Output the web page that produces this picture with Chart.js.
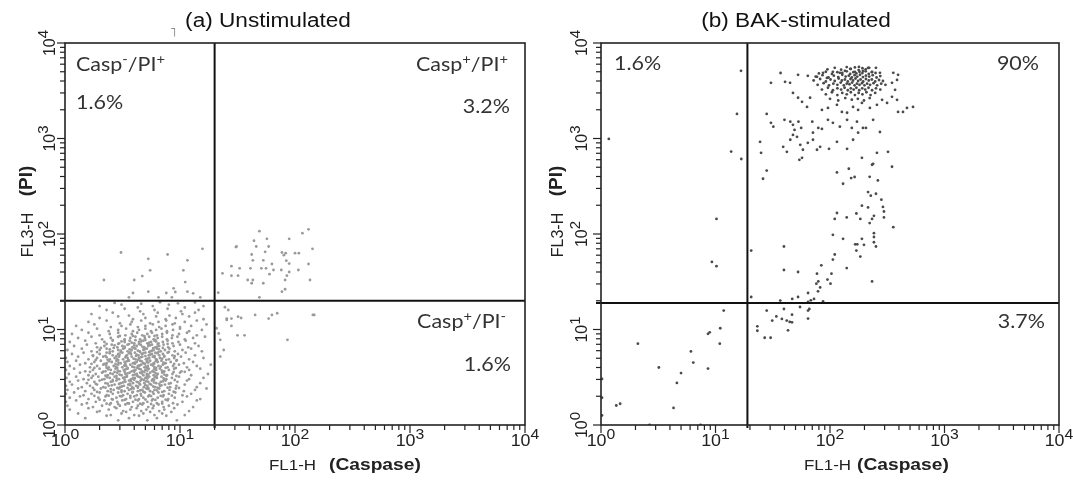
<!DOCTYPE html>
<html>
<head>
<meta charset="utf-8">
<script src="https://cdn.jsdelivr.net/npm/chart.js@4"></script>
<style>
  html, body { margin: 0; padding: 0; background: #fff; }
  #wrap { position: relative; width: 1073px; height: 480px; overflow: hidden; }
  .panel { position: absolute; top: 0; height: 480px; }
</style>
</head>
<body>
<div id="wrap">
  <div class="panel" style="left:0;width:545px"><canvas id="chartA" width="545" height="480"></canvas></div>
  <div class="panel" style="left:536px;width:537px"><canvas id="chartB" width="537" height="480"></canvas></div>
</div>
<script>
// axis decades and their exponent labels
const decades = [1, 10, 100, 1000, 10000];
const exponents = ["0", "1", "2", "3", "4"];
const minorSteps = [1, 2, 3, 4, 5, 6, 7, 8, 9];

// quadrant gates (FL1-H, FL3-H)
const gateA = [20, 20];
const gateB = [19, 19];

// (a) unstimulated: main Casp-/PI- population
const unstimCluster = [
  [1.5,1.18],[2.3,1.25],[2.9,1.12],[3.6,1.18],[4.4,1.25],[5.2,1.12],[6.3,1.18],[7.6,1.25],[9.4,1.12],
  [1.3,1.32],[1.9,1.37],[2.5,1.27],[3.1,1.32],[3.4,1.37],[4.0,1.27],[4.8,1.32],[5.5,1.37],[6.0,1.27],[7.0,1.32],[8.4,1.37],[11,1.27],
  [1.1,1.45],[1.6,1.5],[2.0,1.4],[2.4,1.45],[2.8,1.5],[3.2,1.4],[3.7,1.45],[4.2,1.5],[4.6,1.4],[5.1,1.45],[5.8,1.5],[6.6,1.4],[7.3,1.45],[8.9,1.5],[12,1.4],
  [1.05,1.59],[1.4,1.64],[1.75,1.54],[2.1,1.59],[2.45,1.64],[2.7,1.54],[3.0,1.59],[3.35,1.64],[3.8,1.54],[4.3,1.59],[4.7,1.64],[5.3,1.54],[5.9,1.59],[6.5,1.64],[7.2,1.54],[8.0,1.59],[9.5,1.64],[13,1.54],
  [1.02,1.75],[1.25,1.81],[1.55,1.69],[1.85,1.75],[2.2,1.81],[2.5,1.69],[2.85,1.75],[3.15,1.81],[3.5,1.69],[3.9,1.75],[4.3,1.81],[4.8,1.69],[5.2,1.75],[5.7,1.81],[6.3,1.69],[7.0,1.75],[7.8,1.81],[8.7,1.69],[10.5,1.75],[14,1.81],
  [1.1,1.93],[1.35,1.99],[1.6,1.87],[1.95,1.93],[2.25,1.99],[2.55,1.87],[2.8,1.93],[3.1,1.99],[3.4,1.87],[3.7,1.93],[4.0,1.99],[4.4,1.87],[4.8,1.93],[5.3,1.99],[5.8,1.87],[6.4,1.93],[7.1,1.99],[7.9,1.87],[9.0,1.93],[11.5,1.99],[15,1.87],
  [1.02,2.12],[1.2,2.19],[1.45,2.05],[1.7,2.12],[2.0,2.19],[2.3,2.05],[2.6,2.12],[2.9,2.19],[3.2,2.05],[3.5,2.12],[3.85,2.19],[4.2,2.05],[4.55,2.12],[4.95,2.19],[5.4,2.05],[5.9,2.12],[6.5,2.19],[7.2,2.05],[8.0,2.12],[9.1,2.19],[10.5,2.05],[12.5,2.12],
  [1.05,2.33],[1.3,2.41],[1.5,2.26],[1.8,2.33],[2.05,2.41],[2.35,2.26],[2.65,2.33],[2.95,2.41],[3.3,2.26],[3.6,2.33],[3.95,2.41],[4.3,2.26],[4.7,2.33],[5.1,2.41],[5.5,2.26],[6.0,2.33],[6.6,2.41],[7.3,2.26],[8.1,2.33],[9.2,2.41],[10.8,2.26],[13.5,2.33],[17,2.41],
  [1.02,2.57],[1.15,2.65],[1.4,2.49],[1.65,2.57],[1.9,2.65],[2.15,2.49],[2.4,2.57],[2.7,2.65],[3.0,2.49],[3.25,2.57],[3.55,2.65],[3.85,2.49],[4.15,2.57],[4.5,2.65],[4.85,2.49],[5.2,2.57],[5.6,2.65],[6.1,2.49],[6.7,2.57],[7.4,2.65],[8.2,2.49],[9.3,2.57],[11,2.65],[14,2.49],
  [1.1,2.83],[1.3,2.92],[1.55,2.74],[1.8,2.83],[2.0,2.92],[2.25,2.74],[2.5,2.83],[2.8,2.92],[3.05,2.74],[3.35,2.83],[3.6,2.92],[3.9,2.74],[4.2,2.83],[4.55,2.92],[4.9,2.74],[5.3,2.83],[5.7,2.92],[6.2,2.74],[6.8,2.83],[7.5,2.92],[8.3,2.74],[9.5,2.83],[11.5,2.92],[15,2.74],
  [1.03,3.11],[1.25,3.21],[1.45,3.02],[1.7,3.11],[1.95,3.21],[2.2,3.02],[2.45,3.11],[2.7,3.21],[2.95,3.02],[3.2,3.11],[3.45,3.21],[3.75,3.02],[4.05,3.11],[4.35,3.21],[4.65,3.02],[5.0,3.11],[5.4,3.21],[5.8,3.02],[6.3,3.11],[6.9,3.21],[7.6,3.02],[8.5,3.11],[9.8,3.21],[12,3.02],[16,3.11],
  [1.08,3.42],[1.35,3.53],[1.6,3.32],[1.85,3.42],[2.1,3.53],[2.35,3.32],[2.6,3.42],[2.85,3.53],[3.1,3.32],[3.35,3.42],[3.65,3.53],[3.9,3.32],[4.2,3.42],[4.5,3.53],[4.8,3.32],[5.15,3.42],[5.5,3.53],[5.9,3.32],[6.4,3.42],[7.0,3.53],[7.7,3.32],[8.6,3.42],[10,3.53],[12.5,3.32],[17.5,3.42],
  [1.02,3.77],[1.2,3.89],[1.5,3.65],[1.75,3.77],[2.0,3.89],[2.25,3.65],[2.5,3.77],[2.75,3.89],[3.0,3.65],[3.25,3.77],[3.5,3.89],[3.8,3.65],[4.1,3.77],[4.4,3.89],[4.7,3.65],[5.0,3.77],[5.35,3.89],[5.75,3.65],[6.2,3.77],[6.7,3.89],[7.3,3.65],[8.0,3.77],[8.9,3.89],[10.3,3.65],[12,3.77],[15,3.89],
  [1.1,4.15],[1.35,4.28],[1.65,4.02],[1.9,4.15],[2.15,4.28],[2.4,4.02],[2.65,4.15],[2.9,4.28],[3.15,4.02],[3.4,4.15],[3.7,4.28],[4.0,4.02],[4.3,4.15],[4.6,4.28],[4.9,4.02],[5.25,4.15],[5.6,4.28],[6.0,4.02],[6.5,4.15],[7.1,4.28],[7.8,4.02],[8.7,4.15],[9.8,4.28],[11.5,4.02],[14,4.15],[18.5,4.28],
  [1.05,4.57],[1.25,4.71],[1.5,4.43],[1.8,4.57],[2.05,4.71],[2.3,4.43],[2.55,4.57],[2.8,4.71],[3.05,4.43],[3.3,4.57],[3.6,4.71],[3.9,4.43],[4.2,4.57],[4.5,4.71],[4.8,4.43],[5.15,4.57],[5.5,4.71],[5.9,4.43],[6.4,4.57],[6.9,4.71],[7.5,4.43],[8.3,4.57],[9.3,4.71],[10.8,4.43],[13,4.57],
  [1.02,5.03],[1.3,5.19],[1.6,4.87],[1.9,5.03],[2.15,5.19],[2.45,4.87],[2.7,5.03],[2.95,5.19],[3.2,4.87],[3.5,5.03],[3.8,5.19],[4.1,4.87],[4.4,5.03],[4.7,5.19],[5.05,4.87],[5.4,5.03],[5.8,5.19],[6.2,4.87],[6.7,5.03],[7.3,5.19],[8.0,4.87],[8.9,5.03],[10.2,5.19],[12,4.87],[16,5.03],
  [1.15,5.54],[1.45,5.72],[1.75,5.37],[2.0,5.54],[2.3,5.72],[2.6,5.37],[2.9,5.54],[3.15,5.72],[3.45,5.37],[3.75,5.54],[4.05,5.72],[4.35,5.37],[4.65,5.54],[5.0,5.72],[5.35,5.37],[5.7,5.54],[6.1,5.72],[6.6,5.37],[7.1,5.54],[7.8,5.72],[8.6,5.37],[9.6,5.54],[11.2,5.72],[13.5,5.37],
  [1.05,6.1],[1.4,6.3],[1.7,5.91],[2.0,6.1],[2.3,6.3],[2.6,5.91],[2.9,6.1],[3.2,6.3],[3.5,5.91],[3.8,6.1],[4.1,6.3],[4.45,5.91],[4.8,6.1],[5.15,6.3],[5.5,5.91],[5.9,6.1],[6.3,6.3],[6.8,5.91],[7.4,6.1],[8.1,6.3],[9.0,5.91],[10.5,6.1],[12.5,6.3],[15.5,5.91],
  [1.2,6.72],[1.55,6.93],[1.9,6.51],[2.2,6.72],[2.55,6.93],[2.85,6.51],[3.15,6.72],[3.5,6.93],[3.85,6.51],[4.2,6.72],[4.55,6.93],[4.9,6.51],[5.3,6.72],[5.7,6.93],[6.1,6.51],[6.6,6.72],[7.2,6.93],[7.9,6.51],[8.8,6.72],[10,6.93],[11.8,6.51],[14.5,6.72],
  [1.1,7.4],[1.5,7.63],[1.85,7.17],[2.2,7.4],[2.6,7.63],[2.95,7.17],[3.3,7.4],[3.65,7.63],[4.0,7.17],[4.4,7.4],[4.8,7.63],[5.2,7.17],[5.6,7.4],[6.0,7.63],[6.5,7.17],[7.1,7.4],[7.8,7.63],[8.6,7.17],[9.7,7.4],[11.2,7.63],[13.5,7.17],
  [1.3,8.15],[1.7,8.4],[2.1,7.9],[2.5,8.15],[2.9,8.4],[3.3,7.9],[3.7,8.15],[4.1,8.4],[4.5,7.9],[4.95,8.15],[5.4,8.4],[5.9,7.9],[6.4,8.15],[7.0,8.4],[7.7,7.9],[8.5,8.15],[9.5,8.4],[11,7.9],[13,8.15],[16.5,8.4],
  [1.15,8.97],[1.6,9.25],[2.0,8.7],[2.45,8.97],[2.9,9.25],[3.35,8.7],[3.8,8.97],[4.25,9.25],[4.7,8.7],[5.2,8.97],[5.7,9.25],[6.3,8.7],[7.0,8.97],[7.7,9.25],[8.6,8.7],[9.8,8.97],[11.5,9.25],[14,8.7],
  [1.4,9.9],[1.9,10.2],[2.4,9.6],[2.9,9.9],[3.4,10.2],[3.9,9.6],[4.4,9.9],[5.0,10.2],[5.6,9.6],[6.2,9.9],[6.9,10.2],[7.7,9.6],[8.7,9.9],[10,10.2],[12,9.6],[15.5,9.9],
  [1.25,10.9],[1.8,11.3],[2.5,10.6],[3.1,10.9],[3.7,11.3],[4.3,10.6],[5.0,10.9],[5.8,11.3],[6.6,10.6],[7.5,10.9],[8.6,11.3],[10,10.6],[12.5,10.9],[17,11.3],
  [1.6,12],[2.3,12.4],[3.0,11.6],[3.8,12],[4.6,12.4],[5.5,11.6],[6.5,12],[7.6,12.4],[9.0,11.6],[11,12],[14,12.4],
  [2.0,13.2],[2.9,13.7],[3.9,12.8],[5.0,13.2],[6.2,13.7],[7.5,12.8],[9.2,13.2],[12,13.7],[16,12.8],
  [1.7,14.5],[2.6,15],[3.6,14],[4.8,14.5],[6.4,15],[8.1,14],[10.5,14.5],[13.5,15],
  [2.3,16],[3.3,16.5],[4.5,15.5],[6.0,16],[7.8,16.5],[10.2,15.5],[14.5,16],
  [2.0,17.6],[3.1,18.2],[4.3,17],[5.8,17.6],[8.0,18.2],[11,17],[16,17.6],
  [2.7,19],[4.6,18.6],[6.7,19.3],[9.6,18.8],[13.5,19.2]
];

// (a) denser centre of the main population
const unstimCore = [
  [2.5,2.38],[3.1,2.3],[3.75,2.37],[4.5,2.3],[5.3,2.37],[6.3,2.3],
  [2.55,2.6],[3.12,2.53],[3.7,2.61],[4.3,2.53],[5.0,2.61],[5.85,2.53],[6.9,2.6],
  [2.6,2.87],[3.2,2.79],[3.75,2.88],[4.35,2.79],[5.1,2.87],[5.95,2.79],[7.1,2.86],
  [2.33,3.16],[2.82,3.07],[3.32,3.16],[3.9,3.07],[4.5,3.16],[5.2,3.07],[6.05,3.16],[7.2,3.07],
  [2.48,3.47],[2.98,3.37],[3.5,3.47],[4.05,3.37],[4.65,3.47],[5.3,3.37],[6.15,3.47],[7.3,3.37],
  [2.38,3.83],[2.88,3.71],[3.38,3.83],[3.95,3.71],[4.55,3.83],[5.2,3.71],[5.95,3.83],[6.95,3.71],
  [2.28,4.2],[2.78,4.08],[3.28,4.2],[3.85,4.08],[4.45,4.2],[5.05,4.08],[5.8,4.2],[6.8,4.08],
  [2.42,4.64],[2.92,4.5],[3.45,4.64],[4.05,4.5],[4.65,4.64],[5.3,4.5],[6.15,4.64],[7.2,4.5],
  [2.3,5.11],[2.82,4.95],[3.35,5.11],[3.95,4.95],[4.55,5.11],[5.2,4.95],[6.0,5.11],[7.0,4.95],
  [2.45,5.63],[2.98,5.45],[3.6,5.63],[4.2,5.45],[4.8,5.63],[5.5,5.45],[6.35,5.63],
  [2.45,6.2],[3.05,6.0],[3.65,6.2],[4.3,6.0],[4.95,6.2],[5.7,6.0],[6.55,6.2],
  [2.7,6.82],[3.3,6.62],[4.0,6.82],[4.7,6.62],[5.5,6.82],[6.35,6.62],
  [3.1,7.5],[3.8,7.28],[4.6,7.5],[5.4,7.28],[6.2,7.5]
];

// (a) more events filling the body of the population
const unstimFill = [
  [2.3,1.67],[2.9,1.66],[3.6,1.68],[4.5,1.67],[5.6,1.66],[7.0,1.68],
  [2.0,1.84],[2.6,1.85],[3.3,1.83],[4.1,1.84],[5.0,1.85],[6.1,1.83],[7.5,1.84],
  [1.8,2.02],[2.4,2.03],[3.0,2.01],[3.7,2.02],[4.6,2.03],[5.6,2.01],[6.8,2.02],[8.5,2.03],
  [1.9,2.22],[2.5,2.23],[3.1,2.21],[3.9,2.22],[4.8,2.23],[5.8,2.21],[7.0,2.22],[8.8,2.23],
  [1.75,2.45],[2.25,2.46],[2.85,2.44],[3.5,2.45],[4.3,2.46],[5.3,2.44],[6.4,2.45],[7.8,2.46],[9.8,2.44],
  [1.85,2.7],[2.35,2.71],[2.95,2.69],[3.65,2.7],[4.45,2.71],[5.45,2.69],[6.6,2.7],[8.0,2.71],
  [1.6,2.97],[2.1,2.98],[2.6,2.96],[3.3,2.97],[4.0,2.98],[4.85,2.96],[5.95,2.97],[7.3,2.98],[9.0,2.96],
  [1.75,3.27],[2.25,3.28],[2.8,3.26],[3.45,3.27],[4.25,3.28],[5.15,3.26],[6.25,3.27],[7.6,3.28],[9.3,3.26],
  [1.65,3.6],[2.15,3.61],[2.7,3.59],[3.3,3.6],[4.0,3.61],[4.9,3.59],[5.95,3.6],[7.2,3.61],[8.8,3.59],[11,3.6],
  [1.8,3.96],[2.3,3.97],[2.85,3.95],[3.5,3.96],[4.25,3.97],[5.15,3.95],[6.2,3.96],[7.5,3.97],[9.2,3.95],
  [1.7,4.36],[2.2,4.37],[2.75,4.35],[3.35,4.36],[4.05,4.37],[4.95,4.35],[5.95,4.36],[7.2,4.37],[8.9,4.35],
  [1.85,4.8],[2.35,4.81],[2.9,4.79],[3.55,4.8],[4.3,4.81],[5.2,4.79],[6.3,4.8],[7.6,4.81],[9.4,4.79],
  [1.75,5.28],[2.25,5.29],[2.8,5.27],[3.4,5.28],[4.15,5.29],[5.0,5.27],[6.0,5.28],[7.3,5.29],[9.0,5.27],
  [1.9,5.8],[2.45,5.81],[3.05,5.79],[3.7,5.8],[4.5,5.81],[5.4,5.79],[6.5,5.8],[8.0,5.81],
  [2.05,6.4],[2.65,6.41],[3.3,6.39],[4.0,6.4],[4.85,6.41],[5.85,6.39],[7.1,6.4],
  [2.3,7.05],[2.9,7.06],[3.6,7.04],[4.4,7.05],[5.3,7.06],[6.4,7.04],[7.8,7.05],
  [2.6,7.75],[3.3,7.76],[4.1,7.74],[5.0,7.75],[6.1,7.76],
  [3.0,8.55],[3.9,8.56],[4.9,8.54],[6.0,8.55]
];

// (a) Casp-/PI+
const unstimUpperLeft = [
  [3.07,64],[7.8,61],[15.7,70],[5.3,55],[5.5,41.7],[4.7,36.3],[10.7,41.7],[11.6,53],[2.18,33],[4.0,33],
  [11.1,31.4],[3.9,24.1],[5.3,24.9],[7.6,24.1],[8.8,27],[9.1,24.7],[11.6,24.9],[13,23.9],[15,21.7],[3.6,21.7],
  [6.5,21.7],[8.5,21.7]
];

// (a) Casp+/PI+
const unstimUpperRight = [
  [49,107],[131,112],[116,102],[44,85],[57,89],[89,89],[31,74],[46,74],[59,74],[42,61],
  [55,65],[77,64],[80,60],[83,63],[100,63],[108,63],[142,70],[43,53],[53,53],[63,48.5],
  [84,52.5],[89,49],[131,48.5],[28,46],[33,43.7],[41,43.7],[51,43.7],[56,43.7],[65,42],[76,42],
  [89,40],[23.4,38.7],[28,36.6],[32,36.6],[60,38],[85,36.6],[38.8,33],[43,33],[42,30.5],[53,30.5],
  [82,33],[135,33],[77,24.9],[82,26.4],[49,21.7],[21.5,24.3],[107,42],[30.6,73]
];

// (a) Casp+/PI-
const unstimLowerRight = [
  [24.6,17.1],[26.3,16],[32,13.6],[25.5,13],[28,13],[45,14.2],[59,13],[63,14.2],[70,14.8],[147,14.2],
  [28,10.9],[25.5,12.6],[34,13.2],[86,7.8],[143,14.2],[21.7,9.1],[22.4,7.8],[22.4,5.2],[24,6.1],[31.6,8.7],
  [36.4,8.7],[20.8,10.3]
];

// (b) BAK-stimulated: dense Casp+/PI+ core
const stimCore = [
  [95,5300],[110,5500],[125,5250],[140,5600],[152,5350],[165,5550],[178,5200],[192,5450],[205,5300],[220,5500],
  [80,4800],[92,5000],[104,4750],[116,4950],[128,4850],[140,5050],[150,4750],[160,4950],[170,4800],[181,5000],
  [192,4850],[205,5050],[218,4750],[232,4950],[250,4850],
  [75,4450],[86,4600],[97,4350],[108,4550],[118,4400],[128,4650],[137,4450],[146,4550],[155,4350],[164,4600],
  [173,4450],[183,4650],[194,4400],[206,4550],[220,4450],[236,4600],[255,4350],[275,4500],
  [72,4050],[82,4200],[92,3950],[101,4150],[110,4000],[119,4250],[127,4050],[135,4150],[143,3950],[151,4200],
  [159,4050],[167,4250],[176,4000],[185,4150],[195,3950],[206,4200],[218,4050],[232,4150],[248,3950],[268,4100],[290,4000],
  [78,3650],[88,3800],[98,3600],[107,3750],[116,3650],[124,3850],[132,3600],[140,3750],[148,3700],[156,3850],
  [164,3600],[172,3750],[181,3650],[190,3800],[200,3600],[211,3750],[224,3650],[240,3800],[258,3600],[280,3750],[305,3650],
  [85,3250],[96,3400],[106,3200],[116,3350],[125,3250],[134,3400],[143,3200],[152,3350],[161,3250],[170,3400],
  [180,3200],[191,3350],[203,3250],[217,3400],[233,3200],[252,3350],[275,3250],
  [92,2900],[104,3050],[116,2850],[128,3000],[140,2900],[152,3050],[165,2850],[178,3000],[192,2900],[208,3050],[226,2850],[248,3000],
  [100,2600],[118,2500],[136,2650],[155,2550],[175,2600],[198,2500],[222,2650]
];

// (b) remaining Casp+/PI+ events
const stimUpperRight = [
  [37,4850],[52.6,4640],[64,4530],[77,4420],[87,4870],[94,4310],[106,4990],[122,4870],[135,5110],[150,5360],
  [165,4990],[179,5620],[194,5110],[215,5500],[233,4990],[252,5500],[273,4870],[357,4870],[393,4640],
  [30.5,3830],[40.5,3920],[44.8,3830],[47.5,3000],[52.6,2670],[57,2420],[63,2140],[67,2670],[85,1990],[96,2090],
  [115,2250],[127,1900],[141,1860],[159,2140],[176,1990],[190,2360],[223,2090],[257,2250],[285,2540],[315,2360],
  [348,2730],[370,3230],[385,2540],[393,1900],[434,1900],[470,2090],[531,2140],[348,3830],[385,4110],
  [28,1810],[30.5,1460],[32,1330],[40,1570],[45,1500],[47.5,1390],[53,1500],[56,1290],[49,1230],[47.5,1090],
  [51.5,1040],[45,970],[70,1500],[71,1150],[79,1290],[85,1260],[96,1570],[106,1460],[122,1330],[141,1570],
  [155,1290],[172,1500],[194,1290],[206,1290],[238,1570],[273,1170],[176,1150],[159,970],[115,923],[98,780],
  [82,818],[71,970],[64,901],[39,818],[42,726],[55,859],[58,762],[77,762],[57,628],[54,598],
  [24.5,923],[25,708],[141,780],[190,628],[238,543],[257,708],[321,726],[348,506],
  [28,462],[26,379],[233,531],[146,482],[115,441],[153,385],[164,395],[130,336],[222,397],[262,364],
  [215,275],[227,252],[252,264],[281,229],[190,198],[215,190],[290,192],[296,172],[115,166],[110,144],
  [140,149],[170,164],[184,144],[233,144],[242,155],[222,130],[296,149],[357,118],[106,98],[130,89],
  [190,89],[166,78],[173,78],[198,77],[170,67],[184,58],[242,102],[242,93],[242,82],[252,74],
  [110,61],[106,54],[140,44],[84,47],[77,38.4],[103,38.4],[79,31.9],[76,30.2],[95,33.3],[101,30.2],
  [82,27.6],[52.6,40],[39.6,42],[39.6,74],[233,31.9],[20.5,67],
  [20.5,21.9],[36.8,20.1],[46.8,20.9],[52.6,21.9],[64.3,24.1],[78.6,25.1],[64.3,19.4],[68,20.2],[72.5,20.9],[87,19.7]
];

// (b) Casp+/PI-
const stimLowerRight = [
  [28,15.8],[39.6,16.4],[54.7,17.2],[66,16.4],[64.3,15.8],[46.6,14.3],[34,13.7],[31.3,12.4],[38,12.9],[41.9,12.4],
  [44.5,12],[46.6,11.9],[64.3,13],[23.2,10.8],[23.2,9.7],[43,9.8],[26.9,8.2],[30.3,8.2]
];

// (b) Casp- events (left of the gate)
const stimLeft = [
  [1.17,990],[13.7,730],[16.8,610],[15.4,1810],[16.7,5110],[10.2,144],[9.3,51],[10.2,46],
  [11.8,15.8],[8.9,9.35],[8.6,9.0],[11,10.3],[10.9,7.1],[2.1,7.1],[6.1,5.9],[6.4,4.5],[8.6,3.9],[3.2,4.0],
  [5.0,3.5],[4.6,2.76],[4.3,1.51],[1.36,1.6],[1.47,1.67],[2.66,1.0],[7.4,1.0],[1.02,3.04],[1.02,1.93],[1.02,1.26]
];

const ARIAL = '"Liberation Sans", Arial, sans-serif';
const CALI = 'Lato, "Open Sans", sans-serif';
const S = 1.13; // the source lettering is a little wide

function runs(ctx, parts, x, y, align, rotated, stretch) {
  ctx.save();
  ctx.translate(x, y);
  if (rotated) ctx.rotate(-Math.PI / 2);
  ctx.scale(stretch, 1);
  ctx.textAlign = "left";
  ctx.textBaseline = "alphabetic";
  const widths = parts.map(p => { ctx.font = p[1]; return ctx.measureText(p[0]).width; });
  const total = widths.reduce((s, w) => s + w, 0);
  let cx = align === "center" ? -total / 2 : align === "right" ? -total : 0;
  parts.forEach((p, i) => {
    ctx.font = p[1];
    ctx.fillText(p[0], cx, -(p[2] || 0));
    cx += widths[i];
  });
  ctx.restore();
}

function q(main, sup1, rest, sup2) {
  const f = "19px " + CALI, fs = "13px " + CALI;
  return [[main, f], [sup1, fs, 7], [rest, f], [sup2, fs, 7]];
}

const panels = {
  chartA: {
    gate: gateA, yLabelGap: 10,
    title: ["(a) Unstimulated", 268],
    yTitleX: 33,
    xTitle: [269, 329],
    texts: [
      [q("Casp", "-", "/PI", "+"), 76, 71, "left"],
      [[["1.6%", "19px " + CALI]], 76, 109, "left"],
      [q("Casp", "+", "/PI", "+"), 508, 71, "right"],
      [[["3.2%", "19px " + CALI]], 510, 113, "right"],
      [q("Casp", "+", "/PI", "-"), 506, 328, "right"],
      [[["1.6%", "19px " + CALI]], 511, 371, "right"]
    ],
    mark: true
  },
  chartB: {
    gate: gateB, yLabelGap: 14,
    title: ["(b) BAK-stimulated", 260],
    yTitleX: 27,
    xTitle: [268, 321],
    texts: [
      [[["1.6%", "19px " + CALI]], 78, 70, "left"],
      [[["90%", "19px " + CALI]], 503, 70, "right"],
      [[["3.7%", "19px " + CALI]], 509, 328, "right"]
    ],
    mark: false
  }
};

const flowPlugin = {
  id: "flowFrame",
  afterDatasetsDraw(chart) {
    const p = panels[chart.canvas.id];
    const { ctx, chartArea: a, scales: { x, y } } = chart;
    const line = (x1, y1, x2, y2) => { ctx.beginPath(); ctx.moveTo(x1, y1); ctx.lineTo(x2, y2); ctx.stroke(); };
    ctx.save();

    // quadrant gates
    ctx.strokeStyle = "#111";
    ctx.lineWidth = 2;
    const gx = x.getPixelForValue(p.gate[0]);
    const gy = y.getPixelForValue(p.gate[1]);
    line(gx, a.top, gx, a.bottom + 3);
    line(a.left - 5, gy, a.right, gy);

    // frame
    ctx.strokeStyle = "#222";
    ctx.lineWidth = 1.6;
    ctx.strokeRect(a.left, a.top, a.right - a.left, a.bottom - a.top);

    // log ticks
    ctx.lineWidth = 1.2;
    decades.forEach(d => {
      minorSteps.forEach(m => {
        const v = d * m;
        if (v > 10000) return;
        const len = m === 1 ? 8 : 5;
        const px = x.getPixelForValue(v);
        line(px, a.bottom, px, a.bottom + len);
        const py = y.getPixelForValue(v);
        line(a.left - len, py, a.left, py);
      });
    });

    // tick labels
    ctx.fillStyle = "#222";
    decades.forEach((d, i) => {
      const px = x.getPixelForValue(d);
      runs(ctx, [["10", "17px " + ARIAL], [exponents[i], "15px " + ARIAL, 7]], px, a.bottom + 21, "center", false, 1.05);
      const py = y.getPixelForValue(d);
      runs(ctx, [["10", "16px " + ARIAL], [exponents[i], "15px " + ARIAL, 7]], a.left - p.yLabelGap, py, "center", true, 1);
    });

    // axis titles
    runs(ctx, [["FL1-H", "15px " + ARIAL]], p.xTitle[0], 470, "left", false, S);
    runs(ctx, [["(Caspase)", "bold 17px " + ARIAL]], p.xTitle[1], 470, "left", false, S);
    runs(ctx, [["FL3-H", "16px " + ARIAL]], p.yTitleX, 235, "center", true, 1);
    runs(ctx, [["(PI)", "bold 19px " + ARIAL]], p.yTitleX - 1, 181, "center", true, 1);

    // panel title
    ctx.fillStyle = "#111";
    runs(ctx, [[p.title[0], "20px " + ARIAL]], p.title[1], 27, "center", false, S);

    // quadrant percentages
    ctx.fillStyle = "#333";
    p.texts.forEach(t => runs(ctx, t[0], t[1], t[2], t[3], false, S));

    if (p.mark) {
      ctx.fillStyle = "#888";
      runs(ctx, [["\u02E5", '13px "DejaVu Sans", sans-serif']], 170, 36, "left", false, 1);
    }
    ctx.restore();
  }
};

function flowChart(id, points, color, radius, padding) {
  return new Chart(document.getElementById(id), {
    type: "scatter",
    data: {
      datasets: [{
        data: points.map(([x, y]) => ({ x, y })),
        backgroundColor: color,
        borderWidth: 0,
        pointRadius: radius,
        pointHoverRadius: radius
      }]
    },
    options: {
      responsive: false,
      animation: false,
      events: [],
      layout: { padding },
      scales: {
        x: { type: "logarithmic", min: 1, max: 10000, display: false },
        y: { type: "logarithmic", min: 1, max: 10000, display: false }
      },
      plugins: { legend: { display: false }, tooltip: { enabled: false } }
    },
    plugins: [flowPlugin]
  });
}

flowChart("chartA",
  unstimCluster.concat(unstimCore, unstimFill, unstimUpperLeft, unstimUpperRight, unstimLowerRight),
  "#9a9a9a", 1.4, { left: 65, top: 43, right: 20, bottom: 55 });

flowChart("chartB",
  stimCore.concat(stimUpperRight, stimLowerRight, stimLeft),
  "#4a4a4a", 1.4, { left: 65, top: 43, right: 14, bottom: 55 });
</script>
</body>
</html>
